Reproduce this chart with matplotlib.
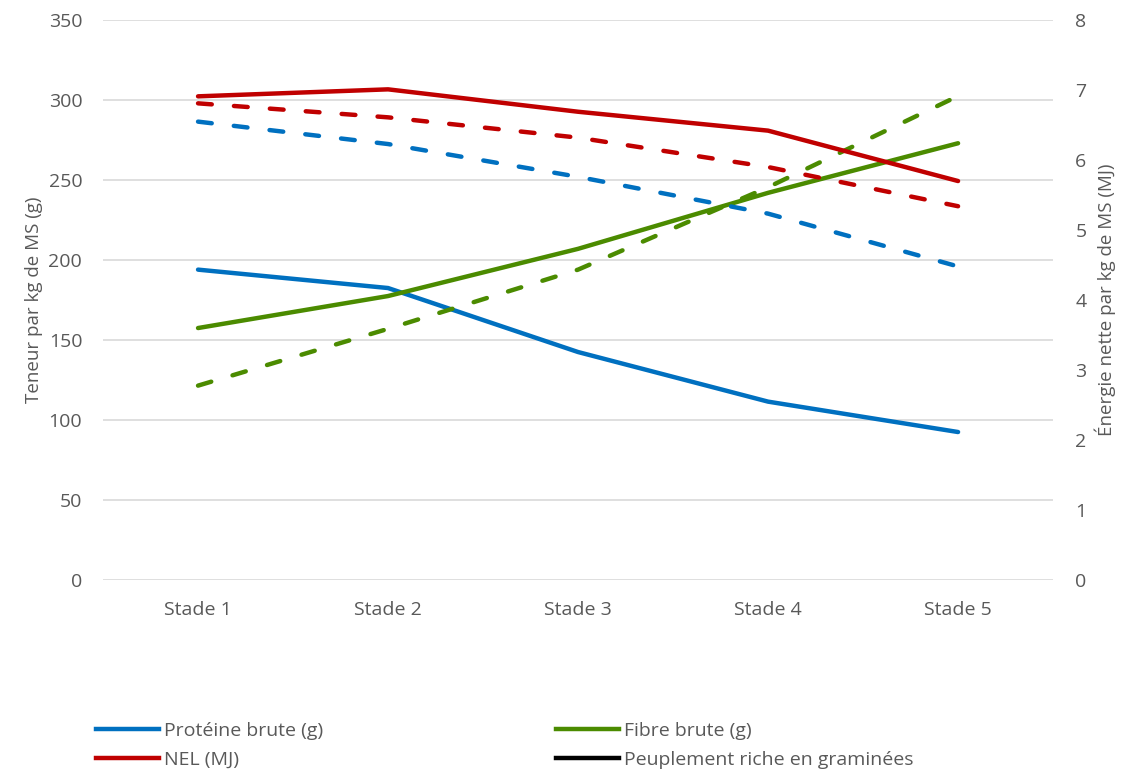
import matplotlib.pyplot as plt

plt.rcParams['font.family'] = ['Open Sans', 'DejaVu Sans']

stades = ["Stade 1", "Stade 2", "Stade 3", "Stade 4", "Stade 5"]

# solid lines
proteine = [194, 182.5, 142.5, 111.5, 92.5]
fibre = [157.5, 177.5, 207, 242, 273]
nel = [6.91, 7.01, 6.69, 6.42, 5.70]

# dashed lines
proteine_2 = [286.5, 272.5, 252, 229, 196]
fibre_2 = [121.5, 157, 194, 245.5, 302.5]
nel_2 = [6.81, 6.61, 6.32, 5.90, 5.34]

blue = "#0070c0"
green = "#4b8b00"
red = "#c00000"
gray = "#595959"

fig = plt.figure(figsize=(11.31, 7.71), dpi=100)
ax = fig.add_axes([0.0911, 0.2477, 0.84, 0.7263])
ax2 = ax.twinx()

x = range(len(stades))
lw = 3.2
dash = (3.1, 5.0)

ax.plot(x, proteine, color=blue, lw=lw, solid_capstyle='round', zorder=3)
ax.plot(x, fibre, color=green, lw=lw, solid_capstyle='round', zorder=3)
ax.plot(x, proteine_2, color=blue, lw=lw, linestyle=(0, dash), dash_capstyle='round', zorder=3)
ax.plot(x, fibre_2, color=green, lw=lw, linestyle=(0, dash), dash_capstyle='round', zorder=3)
ax2.plot(x, nel, color=red, lw=lw, solid_capstyle='round')
ax2.plot(x, nel_2, color=red, lw=lw, linestyle=(0, dash), dash_capstyle='round')

ax.set_xlim(-0.5, 4.5)
ax.set_ylim(0, 350)
ax2.set_ylim(0, 8)
ax.set_yticks(range(0, 351, 50))
ax2.set_yticks(range(0, 9))
ax.set_xticks(list(x))
ax.set_xticklabels(stades)

ax.grid(axis='y', color='#d9d9d9', lw=1.2)
ax.set_axisbelow(True)
for a in (ax, ax2):
    for s in a.spines.values():
        s.set_visible(False)
    a.tick_params(length=0, labelsize=14, labelcolor=gray)
ax.tick_params(axis='y', pad=15)
ax2.tick_params(axis='y', pad=16)
ax.tick_params(axis='x', pad=15)

ax.set_ylabel("Teneur par kg de MS (g)", fontsize=13.5, color=gray, labelpad=4)
ax2.set_ylabel("Énergie nette par kg de MS (MJ)", fontsize=13.5, color=gray, labelpad=6)

h_prot, = ax.plot([], [], color=blue, lw=lw)
h_fib, = ax.plot([], [], color=green, lw=lw)
h_nel, = ax.plot([], [], color=red, lw=lw)
h_gram, = ax.plot([], [], color='black', lw=lw)

leg_kw = dict(frameon=False, fontsize=14, handlelength=3.25, handletextpad=0.26,
              labelspacing=0.55, labelcolor=gray, borderaxespad=0, borderpad=0)
fig.legend([h_prot, h_nel], ["Protéine brute (g)", "NEL (MJ)"],
           loc='upper left', bbox_to_anchor=(96 / 1131, 1 - 722 / 771), **leg_kw)
fig.legend([h_fib, h_gram], ["Fibre brute (g)", "Peuplement riche en graminées"],
           loc='upper left', bbox_to_anchor=(556 / 1131, 1 - 722 / 771), **leg_kw)

fig.savefig("out.png", dpi=100)
